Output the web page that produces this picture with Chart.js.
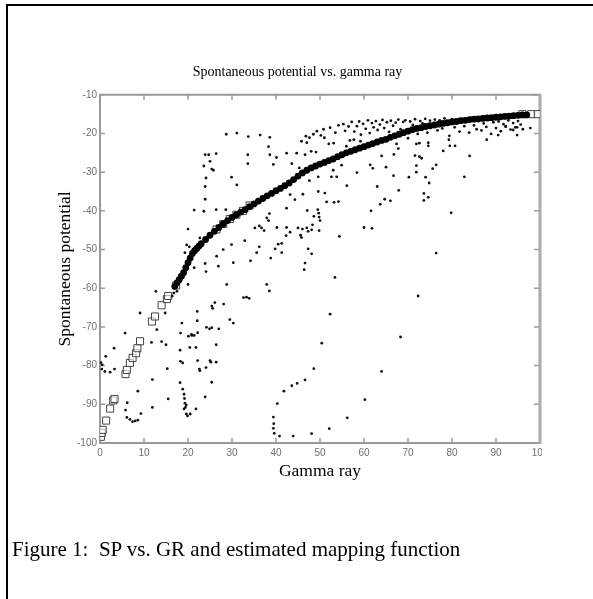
<!DOCTYPE html>
<html>
<head>
<meta charset="utf-8">
<title>Spontaneous potential vs. gamma ray</title>
<script src="https://cdn.jsdelivr.net/npm/chart.js@4.4.1/dist/chart.umd.min.js"></script>
<style>
  html, body { margin: 0; padding: 0; background: #fff; }
  #page { position: relative; width: 593px; height: 599px; overflow: hidden; }
  #frame { position: absolute; left: 6px; top: 4px; width: 700px; height: 700px;
           border-left: 2px solid #000; border-top: 2px solid #000; }
  #wrap { position: absolute; left: 0; top: 0; width: 593px; height: 599px; }
  #caption { position: absolute; left: 12px; top: 539px; line-height: 1;
             font-family: "Liberation Serif", "Times New Roman", serif; font-size: 21px; color: #000; white-space: nowrap; }
</style>
</head>
<body>
<div id="page">
  <div id="frame"></div>
  <div id="wrap"><canvas id="spgr"></canvas></div>
  <div id="caption">Figure 1:&nbsp; SP vs. GR and estimated mapping function</div>
</div>
<script>
// axis ticks
const xTicks = [0, 10, 20, 30, 40, 50, 60, 70, 80, 90, 100];
const yTicks = [-100, -90, -80, -70, -60, -50, -40, -30, -20, -10];

// dense band of samples along the main trend
const bandGR = [17, 17.5, 18, 18.5, 19, 19.5, 20, 20.5, 21, 21.5, 22, 22.5, 23, 24, 25, 26, 27, 28, 29, 30,
  31, 32, 33, 34, 35, 36, 37, 38, 39, 40, 41, 42, 43, 44, 45, 46, 47, 48, 49, 50,
  51, 52, 53, 54, 55, 56, 57, 58, 59, 60, 61, 62, 63, 64, 65, 66, 67, 68, 69, 70,
  71, 72, 73, 74, 75, 76, 77, 78, 79, 80, 81, 82, 83, 84, 85, 86, 87, 88, 89, 90,
  91, 92, 93, 94, 95, 96, 97];
const bandSP = [-59.5, -58.6, -57.8, -56.9, -56.0, -54.7, -53.4, -52.2, -51.0, -50.3, -49.7, -49.1, -48.5, -47.4, -46.3, -45.3, -44.3, -43.4, -42.5, -41.7,
  -41.0, -40.3, -39.7, -38.9, -38.2, -37.5, -36.8, -36.1, -35.5, -34.8, -34.2, -33.5, -32.8, -31.9, -31.0, -30.2, -29.5, -28.9, -28.4, -27.9,
  -27.5, -27.0, -26.6, -26.0, -25.5, -25.0, -24.6, -24.2, -23.8, -23.4, -23.0, -22.6, -22.2, -21.8, -21.5, -21.0, -20.6, -20.2, -19.8, -19.4,
  -19.0, -18.7, -18.5, -18.2, -18.0, -17.8, -17.6, -17.4, -17.2, -17.0, -16.9, -16.7, -16.6, -16.4, -16.3, -16.2, -16.1, -16.0, -15.9, -15.8,
  -15.7, -15.6, -15.5, -15.4, -15.3, -15.2, -15.2];

// scattered measurements
const scatterGR = [
  23.9, 24.7, 26.4, 23.6, 25.0, 25.4, 25.8, 24.1, 23.9, 23.9, 23.6, 21.4, 26.4, 28.6, 29.9, 31.1, 33.6, 33.6, 38.3, 38.6,
  39.4, 40.1, 42.4, 43.6, 44.7, 45.3, 46.6, 43.2, 44.3, 42.4, 20.0, 19.7, 19.3, 20.3, 21.4, 23.9, 24.1, 22.7, 23.1, 28.0,
  26.5, 26.9, 30.3, 28.8, 29.9, 32.9, 34.2, 35.2, 36.2, 36.7, 37.3, 37.9, 38.5, 38.3, 36.2, 35.6, 37.9, 38.5, 38.8, 40.5,
  41.3, 39.8, 41.3, 40.2, 42.3, 42.4, 43.2, 45.0, 45.6, 47.0, 46.6, 33.3, 33.9, 32.6, 28.1, 26.1, 25.4, 25.6, 22.1, 22.1,
  24.2, 24.9, 29.5, 30.3, 27.0, 18.6, 18.3, 20.8, 14.8, 12.7, 12.9, 20.0, 9.1, 5.7, 16.8, 17.5, 16.4,
  28.7, 31.1, 33.7, 36.4, 38.6, 47.6, 48.5, 50.2, 51.0, 52.3, 49.3, 50.8, 53.5, 54.2, 46.8, 79.3,
  46.1, 49.6, 51.1, 51.5, 53.2, 54.2, 47.1, 49.5, 49.7, 49.8, 48.6, 50.0, 48.3, 48.1, 49.8, 47.3, 46.0, 45.8, 54.4, 47.3,
  48.1, 46.4, 53.4, 52.3, 68.3, 72.3, 76.4, 79.8, 82.8, 84.0, 60.0, 61.8, 61.6, 63.7, 64.7, 66.0, 63.0, 67.9, 66.7, 65.0,
  64.0, 70.2, 71.9, 71.9, 74.0, 74.8, 73.6, 74.6, 73.6, 75.6, 76.4, 56.1, 58.4, 61.4, 62.0, 66.8, 71.6, 72.6, 73.1, 78.0,
  79.5, 80.7, 74.6, 45.8, 47.0, 48.0, 49.1, 52.0, 53.1, 56.8, 57.7, 67.4, 67.8, 71.9, 72.6, 74.6, 56.0, 59.2,
  45.5, 47.6, 49.6, 52.6, 53.8, 53.0, 54.9,
  11.7, 14.0, 15.0, 3.2, 1.3, 0.2, 0.5, 0.4, 1.1, 2.3, 3.3, 15.3, 11.9, 8.6, 6.2, 5.8, 6.1, 6.8, 8.0, 8.6,
  9.3, 7.4, 11.9, 15.5, 18.2, 18.3, 18.8, 18.2, 18.8, 19.1, 19.3, 19.6, 19.1, 19.6, 19.9, 20.5, 19.2, 19.4, 21.8, 20.1,
  20.9, 21.4, 22.2, 20.4, 21.8, 22.2, 22.6, 22.7, 24.1, 25.0, 25.2, 26.4, 25.4, 23.9, 25.4, 26.4, 39.4, 39.4, 39.6, 40.8,
  43.9, 39.5, 40.3, 41.8, 43.6, 44.8, 46.6, 50.4, 48.6, 64.0, 60.2, 56.2, 52.1, 48.1,
  55.3, 55.7, 56.5, 57.2, 57.8, 58.4, 58.9, 59.3, 59.8, 60.4, 60.9, 61.3, 61.8, 62.2, 62.7, 63.1, 63.6, 64.2, 64.6, 65.2,
  65.7, 66.1, 66.6, 67.2, 67.8, 68.3, 68.9, 69.4, 70.0, 70.5, 71.1, 71.6, 72.2, 72.8, 73.3, 73.9, 74.4, 75.0, 75.6, 76.1,
  76.7, 77.2, 77.8, 78.3, 78.9, 79.4, 80.0, 80.6, 81.1, 81.7, 82.2, 82.8, 83.3, 83.9, 84.4, 85.0, 85.6, 86.1, 86.7, 87.2,
  87.8, 88.3, 88.9, 89.4, 90.0, 90.6, 91.1, 91.7, 92.2, 92.8, 93.3, 93.9, 94.4, 95.0, 95.6, 96.1, 97.8, 94.8, 90.5, 87.9,
  92.2, 93.9, 94.8
];
const scatterSP = [
  -25.5, -25.5, -25.2, -28.4, -27.2, -29.2, -29.5, -31.5, -33.7, -37.0, -40.1, -39.8, -39.7, -39.7, -31.3, -33.3, -25.5, -27.8, -23.4, -25.5,
  -28.0, -26.2, -25.1, -27.8, -25.1, -28.9, -25.5, -35.8, -37.1, -39.3, -44.7, -48.8, -50.8, -49.3, -54.7, -53.6, -55.7, -47.0, -48.3, -50.0,
  -51.7, -54.3, -53.4, -59.0, -48.7, -47.7, -52.9, -44.4, -43.9, -44.4, -45.1, -41.8, -40.7, -42.5, -49.3, -50.8, -59.0, -60.7, -52.2, -48.6,
  -48.4, -49.8, -50.8, -44.3, -46.4, -44.3, -45.5, -44.4, -46.3, -44.4, -53.5, -62.3, -62.6, -62.4, -64.1, -63.7, -64.6, -65.2, -66.0, -68.4,
  -70.1, -70.5, -68.1, -69.0, -70.5, -69.0, -71.6, -71.9, -66.4, -60.8, -70.7, -59.0, -66.4, -71.6, -61.2, -60.8, -62.0,
  -20.2, -19.9, -20.8, -20.4, -21.0, -21.1, -20.2, -20.5, -21.1, -18.5, -19.4, -18.9, -19.8, -17.9, -20.7, -21.6,
  -35.7, -35.0, -35.4, -37.7, -37.8, -37.6, -39.9, -39.7, -40.6, -41.6, -41.4, -42.5, -43.6, -44.9, -45.1, -45.3, -44.7, -46.9, -46.6, -49.8,
  -51.1, -55.2, -57.2, -66.7, -72.6, -62.0, -50.9, -40.5, -31.2, -25.8, -44.3, -44.5, -40.0, -38.3, -37.0, -37.4, -33.7, -34.7, -30.9, -28.7,
  -25.8, -31.3, -28.3, -30.0, -31.3, -32.8, -35.5, -36.5, -37.3, -29.1, -28.1, -33.5, -30.1, -28.1, -29.0, -25.4, -25.7, -26.0, -26.4, -24.5,
  -23.2, -23.2, -23.2, -22.0, -22.4, -24.6, -24.8, -22.7, -22.5, -21.8, -21.6, -22.7, -23.9, -22.7, -22.5, -22.4, -23.3, -22.0,
  -30.0, -32.2, -31.2, -31.2, -31.2, -29.5, -28.2,
  -74.0, -73.8, -74.6, -75.5, -77.6, -79.2, -79.8, -80.9, -81.5, -81.7, -80.9, -80.8, -83.6, -86.6, -89.6, -91.5, -93.4, -93.9, -94.3, -94.1,
  -92.4, -94.5, -90.8, -88.6, -76.0, -78.9, -79.3, -84.4, -86.1, -87.4, -89.7, -90.2, -91.2, -92.5, -93.0, -92.5, -88.5, -90.8, -91.2, -72.4,
  -72.2, -72.2, -71.5, -75.3, -75.3, -78.7, -80.9, -81.3, -80.5, -78.7, -79.1, -79.1, -84.3, -88.1, -70.2, -74.6, -93.3, -96.2, -97.5, -98.2,
  -98.2, -95.0, -89.8, -86.6, -85.2, -84.6, -83.7, -74.2, -80.8, -81.5, -88.8, -93.5, -96.3, -97.6,
  -17.6, -19.3, -18.2, -17.0, -19.5, -18.1, -16.9, -20.3, -17.5, -18.8, -16.6, -19.9, -17.3, -18.4, -16.8, -19.1, -17.7, -16.5, -18.6, -17.1,
  -19.6, -16.7, -18.0, -17.2, -16.4, -18.9, -17.0, -16.6, -21.2, -16.9, -17.8, -16.3, -20.1, -16.8, -17.4, -16.2, -19.8, -16.7, -17.9, -16.4,
  -19.2, -16.6, -18.7, -16.1, -17.8, -20.6, -16.3, -18.4, -17.3, -19.5, -16.2, -18.1, -17.0, -19.8, -16.0, -17.9, -18.9, -16.8, -19.2, -17.4,
  -18.3, -16.5, -20.1, -17.1, -18.6, -16.9, -19.4, -17.6, -18.2, -16.6, -19.0, -17.3, -18.4, -16.8, -17.7, -18.9, -18.6, -20.4, -20.4, -21.6,
  -18.2, -19.1, -18.4
];

// estimated mapping function (open squares)
const fitGR = [0.2, 0.4, 0.6, 1.4, 2.3, 3.0, 3.3, 5.8, 6.1, 6.8, 7.4, 8.2, 8.5, 9.1, 11.8, 12.5, 14.0, 15.2, 15.5, 17.3,
  26.5, 28.0, 29.5, 31.0, 32.5, 34.0, 96.0, 98.0, 99.5];
const fitSP = [-98.4, -97.4, -96.6, -94.2, -91.1, -89.0, -88.6, -82.2, -81.1, -79.3, -78.0, -76.8, -75.5, -73.7, -68.6, -67.3, -64.4, -62.8, -62.0, -59.3,
  -44.8, -43.4, -42.1, -41.0, -40.0, -38.6, -15.0, -15.0, -15.0];

const toPoints = (xs, ys) => xs.map((v, i) => ({ x: v, y: ys[i] }));

const serif = '"Liberation Serif", "Times New Roman", serif';
const sans = '"Liberation Sans", Arial, Helvetica, sans-serif';

// matlab style box with inward ticks on all four sides
const boxAndTicks = {
  id: 'boxAndTicks',
  beforeDatasetsDraw(chart) {
    const { ctx, chartArea: a, scales: { x, y } } = chart;
    ctx.save();
    ctx.strokeStyle = '#9c9c9c';
    ctx.lineWidth = 1.5;
    ctx.beginPath();
    x.ticks.forEach(t => {
      const px = x.getPixelForValue(t.value);
      ctx.moveTo(px, a.bottom); ctx.lineTo(px, a.bottom - 5);
      ctx.moveTo(px, a.top); ctx.lineTo(px, a.top + 5);
    });
    y.ticks.forEach(t => {
      const py = y.getPixelForValue(t.value);
      ctx.moveTo(a.left, py); ctx.lineTo(a.left + 5, py);
      ctx.moveTo(a.right, py); ctx.lineTo(a.right - 6, py);
    });
    ctx.stroke();
    ctx.lineWidth = 2;
    ctx.strokeStyle = '#999';
    ctx.beginPath();
    ctx.moveTo(a.right, a.top); ctx.lineTo(a.left, a.top);
    ctx.lineTo(a.left, a.bottom); ctx.lineTo(a.right, a.bottom);
    ctx.stroke();
    ctx.lineWidth = 3;
    ctx.strokeStyle = '#aaa';
    ctx.beginPath();
    ctx.moveTo(a.right, a.top - 1); ctx.lineTo(a.right, a.bottom + 1);
    ctx.stroke();
    ctx.restore();
  },
  afterDraw(chart) {
    // the last x label is cut off at the right edge of the axes
    const { ctx, chartArea: a } = chart;
    ctx.save();
    ctx.fillStyle = '#fff';
    ctx.fillRect(a.right + 2, a.bottom + 2, 40, 18);
    ctx.restore();
  }
};

new Chart(document.getElementById('spgr'), {
  type: 'scatter',
  data: {
    datasets: [
      {
        label: 'band',
        data: toPoints(bandGR, bandSP),
        pointRadius: 3.4,
        pointBackgroundColor: '#000',
        pointBorderWidth: 0
      },
      {
        label: 'data',
        data: toPoints(scatterGR, scatterSP),
        pointRadius: 1.4,
        pointBackgroundColor: '#111',
        pointBorderWidth: 0
      },
      {
        label: 'mapping',
        data: toPoints(fitGR, fitSP),
        pointStyle: 'rect',
        pointRadius: 5,
        pointBackgroundColor: 'rgba(255,255,255,0.6)',
        pointBorderColor: '#444',
        pointBorderWidth: 1
      }
    ]
  },
  options: {
    responsive: true,
    maintainAspectRatio: false,
    animation: false,
    layout: { padding: { left: 55, right: 53, top: 0, bottom: 117 } },
    scales: {
      x: {
        type: 'linear',
        min: 0,
        max: 100,
        afterFit: (s) => { s.height = 39; },
        afterBuildTicks: (s) => { s.ticks = xTicks.map(v => ({ value: v })); },
        grid: { display: false, drawTicks: false },
        border: { display: false },
        ticks: { font: { family: sans, size: 10 }, color: '#707070', padding: 4, maxRotation: 0 },
        title: { display: true, text: 'Gamma ray', color: '#000', font: { family: serif, size: 17.5 }, padding: 0 }
      },
      y: {
        type: 'linear',
        min: -100,
        max: -10,
        afterFit: (s) => { s.width = 45; },
        afterBuildTicks: (s) => { s.ticks = yTicks.map(v => ({ value: v })); },
        grid: { display: false, drawTicks: false },
        border: { display: false },
        ticks: { font: { family: sans, size: 10 }, color: '#707070', padding: 3 },
        title: { display: true, text: 'Spontaneous potential', color: '#000', font: { family: serif, size: 17.5 }, padding: 0 }
      }
    },
    plugins: {
      legend: { display: false },
      tooltip: { enabled: false },
      title: {
        display: true,
        text: 'Spontaneous potential vs. gamma ray',
        color: '#000',
        font: { family: serif, size: 14, weight: 'normal' },
        padding: { top: 64, bottom: 14 }
      }
    }
  },
  plugins: [boxAndTicks]
});
</script>
</body>
</html>
